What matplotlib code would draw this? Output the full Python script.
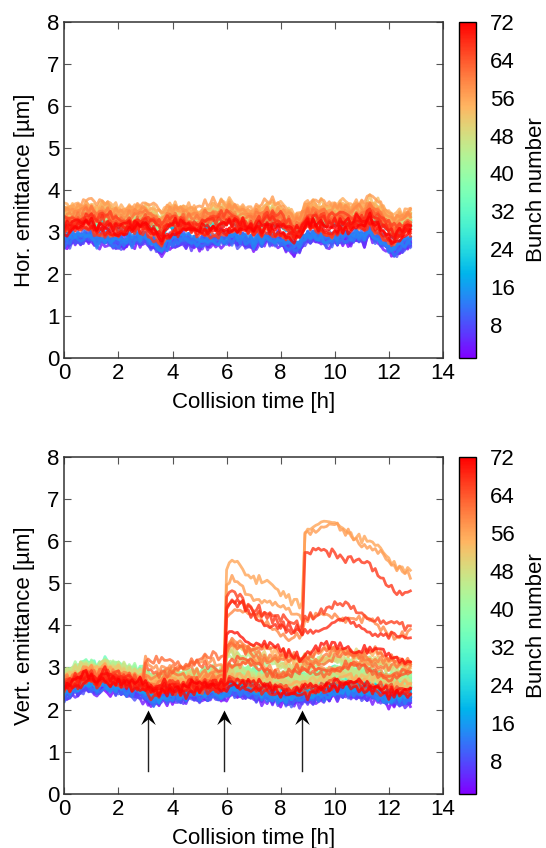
import numpy as np
import matplotlib.pyplot as plt
from matplotlib import cm, colors
from matplotlib.path import Path

plt.rcParams['font.family'] = ['Liberation Sans', 'DejaVu Sans']
plt.rcParams['font.size'] = 16

# collision time, 0.1 h sampling
t_h = np.round(np.arange(129) * 0.1, 1)
n_bunches = 72

# horizontal emittance of the bulk of the train (um)
hor_base = [
    3.02, 3.08, 3.04, 3.10, 3.06, 3.12, 3.07, 3.13, 3.18, 3.12,
    3.16, 3.08, 3.02, 3.09, 3.14, 3.06, 3.11, 3.05, 2.99, 3.04,
    2.98, 3.03, 2.97, 3.02, 3.08, 3.01, 3.06, 3.12, 3.05, 3.09,
    3.13, 3.04, 2.99, 3.03, 2.95, 2.90, 2.84, 2.93, 2.99, 3.06,
    3.03, 3.08, 3.01, 3.06, 3.10, 3.02, 3.07, 2.99, 3.04, 3.00,
    2.96, 3.02, 3.06, 3.00, 3.05, 3.09, 3.03, 3.08, 3.12, 3.06,
    3.10, 3.15, 3.08, 3.13, 3.06, 3.02, 3.09, 3.04, 2.98, 3.03,
    2.97, 3.04, 3.09, 3.02, 3.08, 3.15, 3.07, 3.12, 3.05, 3.10,
    3.06, 3.01, 2.95, 2.98, 2.90, 2.86, 2.92, 2.88, 3.00, 3.10,
    3.18, 3.12, 3.20, 3.14, 3.08, 3.15, 3.10, 3.04, 3.11, 3.07,
    3.12, 3.06, 3.14, 3.09, 3.16, 3.11, 3.05, 3.12, 3.18, 3.13,
    3.17, 3.10, 3.22, 3.28, 3.18, 3.12, 3.16, 3.08, 3.02, 2.96,
    2.90, 2.84, 2.80, 2.86, 2.93, 2.89, 2.96, 2.99, 3.00]

# vertical emittance of the bulk of the train (um)
ver_base = [
    2.52, 2.58, 2.55, 2.62, 2.66, 2.61, 2.70, 2.74, 2.78, 2.72,
    2.76, 2.70, 2.64, 2.71, 2.76, 2.80, 2.73, 2.68, 2.72, 2.66,
    2.70, 2.63, 2.67, 2.60, 2.64, 2.58, 2.62, 2.56, 2.60, 2.55,
    2.52, 2.48, 2.44, 2.40, 2.45, 2.42, 2.47, 2.50, 2.46, 2.51,
    2.48, 2.53, 2.49, 2.45, 2.51, 2.47, 2.52, 2.56, 2.50, 2.54,
    2.49, 2.53, 2.57, 2.51, 2.55, 2.59, 2.53, 2.50, 2.55, 2.52,
    2.56, 2.63, 2.66, 2.60, 2.64, 2.58, 2.62, 2.57, 2.61, 2.55,
    2.58, 2.52, 2.56, 2.50, 2.54, 2.48, 2.52, 2.46, 2.50, 2.45,
    2.43, 2.47, 2.41, 2.45, 2.40, 2.44, 2.47, 2.42, 2.46, 2.49,
    2.45, 2.50, 2.47, 2.52, 2.49, 2.55, 2.51, 2.57, 2.54, 2.60,
    2.62, 2.57, 2.61, 2.58, 2.63, 2.59, 2.62, 2.56, 2.60, 2.57,
    2.55, 2.59, 2.54, 2.57, 2.51, 2.55, 2.49, 2.52, 2.46, 2.44,
    2.41, 2.45, 2.40, 2.44, 2.39, 2.43, 2.40, 2.44, 2.42]

# slow bunch-to-bunch drift, each bunch reads its own stretch of it
ripple = [
    0.02, 0.06, 0.10, 0.05, 0.08, 0.12, 0.07, 0.03, -0.02, 0.01,
    -0.04, -0.08, -0.05, -0.10, -0.13, -0.08, -0.03, 0.02, -0.01, 0.04,
    0.09, 0.06, 0.11, 0.14, 0.09, 0.05, 0.08, 0.02, -0.03, 0.00,
    -0.05, -0.02, -0.07, -0.11, -0.06, -0.09, -0.04, 0.01, 0.05, 0.02,
    0.07, 0.12, 0.08, 0.13, 0.10, 0.04, 0.07, 0.01, -0.04, -0.01,
    -0.06, -0.10, -0.14, -0.09, -0.12, -0.07, -0.02, -0.05, 0.00, 0.04,
    0.01, 0.06, 0.03, 0.08, 0.13, 0.09, 0.12, 0.06, 0.02, 0.05,
    -0.01, -0.05, -0.02, -0.08, -0.12, -0.07, -0.10, -0.04, 0.00, -0.03,
    0.03, 0.08, 0.05, 0.10, 0.07, 0.11, 0.15, 0.09, 0.04, 0.07,
    0.02, -0.03, 0.00, -0.06, -0.09, -0.05, -0.11, -0.14, -0.08, -0.04,
    -0.07, -0.01, 0.04, 0.01, 0.06, 0.10, 0.05, 0.09, 0.13, 0.08,
    0.03, 0.06, 0.00, -0.04, -0.01, -0.06, -0.10, -0.07, -0.12, -0.08,
    -0.03, -0.06, 0.00, 0.05, 0.02, 0.07, 0.11, 0.06, 0.10, 0.04,
    0.00, -0.04, 0.01, -0.03, -0.08, -0.05, -0.11, -0.13, -0.07, -0.02,
    -0.05, 0.01, 0.06, 0.03, 0.09, 0.12, 0.08, 0.03, 0.07, 0.01,
    -0.03, 0.02, -0.02, -0.07, -0.04, -0.09, -0.13, -0.08, -0.11, -0.05,
    0.00, -0.03, 0.03, 0.08, 0.04, 0.10, 0.14, 0.09, 0.05, 0.08,
    0.03, -0.02, 0.01, -0.05, -0.09, -0.06, -0.12, -0.08, -0.03, -0.06,
    0.00, 0.05, 0.02, 0.07, 0.12, 0.08, 0.04, 0.09, 0.05, 0.00,
    -0.04, -0.01, -0.06, -0.10, -0.07, -0.12, -0.09, -0.04, 0.01, -0.02]

# fast measurement jitter
jitter = [
    0.02, -0.03, 0.05, -0.01, 0.04, -0.05, 0.02, 0.06, -0.03, 0.01,
    -0.04, 0.03, -0.02, 0.05, -0.04, 0.01, 0.04, -0.06, 0.03, -0.01,
    0.05, -0.02, 0.03, -0.05, 0.01, 0.05, -0.03, 0.02, -0.06, 0.04,
    -0.01, 0.03, -0.04, 0.06, -0.02, 0.03, -0.05, 0.02, 0.04, -0.03,
    0.01, -0.05, 0.04, -0.01, 0.05, -0.03, 0.02, -0.06, 0.05, -0.02,
    0.03, 0.00, -0.04, 0.04, -0.02, 0.06, -0.04, 0.01, 0.03, -0.05,
    0.04, -0.01, 0.05, -0.03, 0.02, -0.06, 0.03, 0.01, -0.03, 0.05,
    -0.04, 0.02, 0.04, -0.02, 0.05, -0.01, -0.05, 0.03, 0.06, -0.04,
    0.01, -0.03, 0.04, -0.05, 0.02, 0.03, -0.02, 0.05, -0.04, 0.01,
    -0.03, 0.05, -0.01, 0.04, -0.06, 0.03, 0.00, -0.04, 0.04, -0.02,
    0.05, -0.05, 0.02, 0.03, -0.03, 0.06, -0.01, -0.04, 0.04, 0.01,
    -0.05, 0.03, 0.05, -0.03, 0.01, -0.02, 0.04, -0.06, 0.02, 0.04,
    -0.02, 0.05, -0.04, 0.01, 0.03, -0.05, 0.02, 0.06, -0.03, -0.01,
    0.04, -0.03, 0.02, -0.05, 0.05, 0.00, -0.02, 0.04, -0.04, 0.03,
    0.01, -0.06, 0.05, -0.02, 0.03, -0.04, 0.05, 0.01, -0.03, 0.04,
    -0.05, 0.02, -0.01, 0.06, -0.03, 0.02, 0.04, -0.05, 0.03, -0.02,
    0.05, -0.04, 0.01, 0.03, -0.02, 0.05, -0.04, 0.00, 0.04, -0.03,
    0.02, -0.05, 0.04, -0.01, 0.06, -0.03, 0.02, -0.05, 0.03, 0.01,
    -0.04, 0.05, -0.02, 0.03, -0.06, 0.04, 0.01, -0.02, 0.05, -0.04,
    0.03, -0.01, 0.04, -0.03, 0.02, 0.05, -0.05, 0.02, -0.03, 0.04]

# per-bunch offset from the bulk (bunch 1..72)
hor_offset = [
    -0.30, -0.28, -0.32, -0.26, -0.29, -0.27, -0.25, -0.28,
    -0.24, -0.26, -0.22, -0.25, -0.20, -0.22, 0.14, 0.18,
    0.20, 0.22, 0.19, 0.24, 0.21, 0.25, 0.22, 0.26,
    0.20, 0.24, 0.22, 0.26, 0.23, 0.27, 0.24, 0.28,
    0.22, 0.25, 0.20, 0.28, 0.24, 0.30, 0.26, 0.32,
    0.29, 0.33, 0.30, 0.36, 0.28, 0.34, 0.38, 0.32,
    0.40, 0.35, 0.44, 0.38, 0.48, 0.42, 0.52, 0.45,
    0.55, 0.40, 0.34, 0.28, 0.30, 0.22, -0.05, 0.18,
    0.10, 0.25, -0.08, 0.14, 0.05, -0.02, 0.08, 0.00]

ver_offset = [
    -0.22, -0.20, -0.24, -0.18, -0.21, -0.19, -0.17, -0.20,
    -0.16, -0.18, -0.14, -0.17, -0.12, -0.15, -0.10, -0.06,
    0.00, 0.05, 0.10, 0.14, 0.18, 0.16, 0.20, 0.22,
    0.24, 0.20, 0.26, 0.22, 0.28, 0.25, 0.23, 0.27,
    0.25, 0.29, 0.24, 0.30, 0.26, 0.31, 0.27, 0.28,
    0.30, 0.26, 0.32, 0.28, 0.25, 0.29, 0.24, 0.27,
    0.22, 0.25, 0.18, 0.21, 0.15, 0.19, 0.12, 0.16,
    0.10, 0.14, 0.08, 0.11, 0.05, 0.09, 0.03, 0.06,
    0.02, 0.07, 0.00, 0.04, -0.02, 0.03, -0.03, 0.01]

# vertical blow-ups: relative size of the kick over time, and size per bunch
relax_3h = [0.0] * 30 + [1.0] * 30 + [0.9] * 30 + [0.8] * 39
relax_6h = [0.0] * 60 + [
    1.00, 1.03, 1.05, 1.06, 1.04, 1.07, 1.02, 0.98, 0.96, 0.97,
    0.94, 0.92, 0.93, 0.90, 0.88, 0.89, 0.86, 0.85, 0.86, 0.83,
    0.82, 0.83, 0.80, 0.81, 0.79, 0.78, 0.80, 0.77, 0.76, 0.77,
    0.78, 0.79, 0.80, 0.79, 0.81, 0.80, 0.82, 0.81, 0.80, 0.81,
    0.82, 0.81, 0.80, 0.81, 0.79, 0.80, 0.78, 0.79, 0.77, 0.78,
    0.76, 0.77, 0.75, 0.76, 0.74, 0.73, 0.74, 0.72, 0.73, 0.71,
    0.72, 0.70, 0.71, 0.69, 0.70, 0.71, 0.69, 0.70, 0.70]
relax_9h = [0.0] * 89 + [
    1.00,
    1.00, 0.98, 0.99, 0.96, 0.97, 0.95, 0.96, 0.93, 0.94, 0.92,
    0.91, 0.92, 0.89, 0.90, 0.88, 0.89, 0.86, 0.87, 0.84, 0.85,
    0.82, 0.80, 0.81, 0.77, 0.78, 0.74, 0.75, 0.72, 0.70, 0.71,
    0.68, 0.66, 0.67, 0.64, 0.65, 0.62, 0.63, 0.61, 0.60]

kick_3h = {58: 0.40, 60: 0.30, 61: 0.20, 62: 0.55, 63: 0.45}
kick_6h = {56: 2.6, 57: 2.2, 66: 1.9, 67: 1.9, 68: 1.75, 59: 1.6, 70: 1.1,
           62: 0.35, 43: 0.30, 45: 0.45, 48: 0.40, 50: 0.55, 52: 0.60,
           54: 0.75, 60: 0.50, 61: 0.55, 64: 0.45}
kick_9h = {56: 1.65, 57: 2.0, 67: 1.75, 66: 0.25, 59: 0.30}

kick_times_h = [3.1, 5.9, 8.8]
arrow_tail, arrow_tip = 0.55, 2.0

ripple = np.array(ripple)
jitter = np.array(jitter)
n = len(t_h)
cmap = cm.rainbow
norm = colors.Normalize(vmin=1, vmax=72)

fig = plt.figure(figsize=(5.46, 8.48), dpi=100)
ax1 = fig.add_axes([0.118, 0.578, 0.693, 0.396])
ax2 = fig.add_axes([0.118, 0.064, 0.693, 0.397])
cax1 = fig.add_axes([0.8407, 0.578, 0.031, 0.396])
cax2 = fig.add_axes([0.8407, 0.064, 0.031, 0.397])

for b in range(1, n_bunches + 1):
    c = cmap(norm(b))
    s1, j1 = (b * 13) % 71, (b * 37 + 3) % 71
    s2, j2 = (b * 29 + 7) % 71, (b * 19 + 11) % 71
    hor = (np.array(hor_base) + hor_offset[b - 1]
           + ripple[s1:s1 + n] + jitter[j1:j1 + n])
    ver = (np.array(ver_base) + ver_offset[b - 1]
           + ripple[s2:s2 + n] + jitter[j2:j2 + n]
           + kick_3h.get(b, 0) * np.array(relax_3h)
           + kick_6h.get(b, 0) * np.array(relax_6h)
           + kick_9h.get(b, 0) * np.array(relax_9h))
    ax1.plot(t_h, hor, color=c, lw=2, alpha=0.8)
    ax2.plot(t_h, ver, color=c, lw=2, alpha=0.8)

# arrows marking the blow-ups
chevron = Path([(0, 0), (0.5, -1.0), (0, -0.6), (-0.5, -1.0), (0, 0)],
               [Path.MOVETO, Path.LINETO, Path.LINETO, Path.LINETO, Path.CLOSEPOLY])
for tk in kick_times_h:
    ax2.plot([tk, tk], [arrow_tail, arrow_tip - 0.15], color='#222222', lw=1)
    ax2.plot(tk, arrow_tip, marker=chevron, ms=21, color='black', mew=0)

for ax, lab in [(ax1, 'Hor. emittance [µm]'), (ax2, 'Vert. emittance [µm]')]:
    ax.set_xlim(0, 14)
    ax.set_ylim(0, 8)
    ax.set_xticks(range(0, 15, 2))
    ax.set_yticks(range(0, 9))
    ax.set_xlabel('Collision time [h]', labelpad=6)
    ax.set_ylabel(lab, labelpad=9)
    ax.tick_params(direction='in', top=True, right=True, length=5,
                   color='#555555', labelsize=16)
    for sp in ax.spines.values():
        sp.set_color('#333333')
        sp.set_linewidth(1.1)

for cax in [cax1, cax2]:
    cb = fig.colorbar(cm.ScalarMappable(norm=norm, cmap=cmap), cax=cax,
                      ticks=range(8, 73, 8))
    cb.set_label('Bunch number', fontsize=16, labelpad=8)
    cb.ax.tick_params(length=0, labelsize=16, pad=10)
    cb.outline.set_linewidth(1.0)

plt.savefig('out.png', dpi=100)
